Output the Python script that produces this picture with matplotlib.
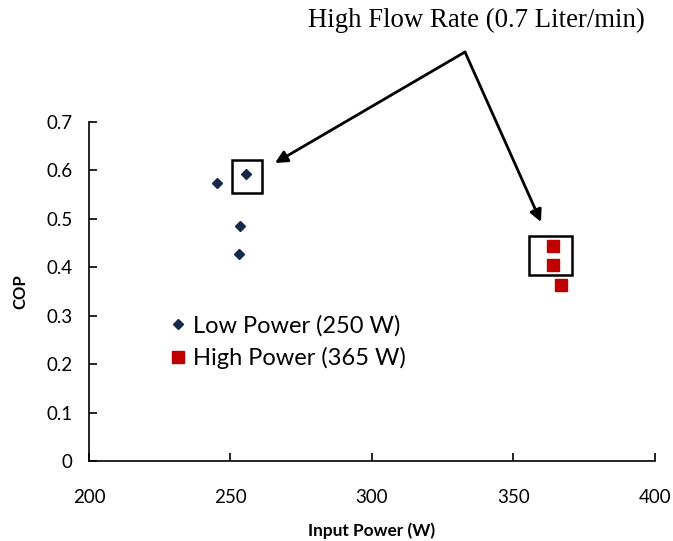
import matplotlib
matplotlib.use("Agg")
import matplotlib.pyplot as plt
from matplotlib.patches import Rectangle, FancyArrowPatch

# data
low_power_x = [245.2, 255.5, 253.4, 253.0]
low_power_cop = [0.574, 0.593, 0.485, 0.427]
high_power_x = [364.0, 364.0, 366.8]
high_power_cop = [0.444, 0.405, 0.363]

# high flow rate points (boxed)
low_box = (250.5, 0.553, 10.6, 0.069)
high_box = (355.5, 0.384, 15.2, 0.081)

plt.rcParams['font.family'] = ['Lato', 'DejaVu Sans']

fig = plt.figure(figsize=(6.73, 5.41), dpi=100)
ax = fig.add_axes([0.1322, 0.1479, 0.8410, 0.6266])

ax.plot(low_power_x, low_power_cop, 'D', color='#17294A', ms=5.6,
        label='Low Power (250 W)', linestyle='none')
ax.plot(high_power_x, high_power_cop, 's', color='#C00000', ms=8.3,
        label='High Power (365 W)', linestyle='none')

for bx in [low_box, high_box]:
    ax.add_patch(Rectangle((bx[0], bx[1]), bx[2], bx[3], fill=False,
                           edgecolor='black', lw=1.8))

ax.set_xlim(200, 400)
ax.set_ylim(0, 0.7)
ax.set_xticks([200, 250, 300, 350, 400])
ax.set_yticks([0, 0.1, 0.2, 0.3, 0.4, 0.5, 0.6, 0.7])
ax.set_yticklabels(['0', '0.1', '0.2', '0.3', '0.4', '0.5', '0.6', '0.7'])
ax.tick_params(direction='in', length=6, width=1.2, labelsize=13.5,
               colors='black')
ax.tick_params(axis='y', pad=12)
ax.tick_params(axis='x', pad=20)
ax.spines['top'].set_visible(False)
ax.spines['right'].set_visible(False)
ax.spines['left'].set_linewidth(1.2)
ax.spines['bottom'].set_linewidth(1.2)

ax.set_xlabel('Input Power (W)', fontsize=12.4, fontweight='bold', labelpad=12)
ax.set_ylabel('COP', fontsize=12, fontweight='bold', labelpad=13)

ax.legend(loc='upper left', bbox_to_anchor=(0.121, 0.458), frameon=False,
          fontsize=17, handletextpad=0.2, labelspacing=0.45,
          handlelength=0.9, borderaxespad=0)

# annotation with two arrows
fig.text(476 / 673, 1 - 20 / 541, 'High Flow Rate (0.7 Liter/min)',
         ha='center', va='center', fontsize=19.3, family='Liberation Serif')
for target in [(275, 163), (541, 222)]:
    fig.patches.append(FancyArrowPatch(
        (465 / 673, 1 - 52 / 541), (target[0] / 673, 1 - target[1] / 541),
        transform=fig.transFigure, arrowstyle='-|>', mutation_scale=18,
        lw=2, color='black', shrinkA=0, shrinkB=0))

fig.savefig('out.png', dpi=100)
